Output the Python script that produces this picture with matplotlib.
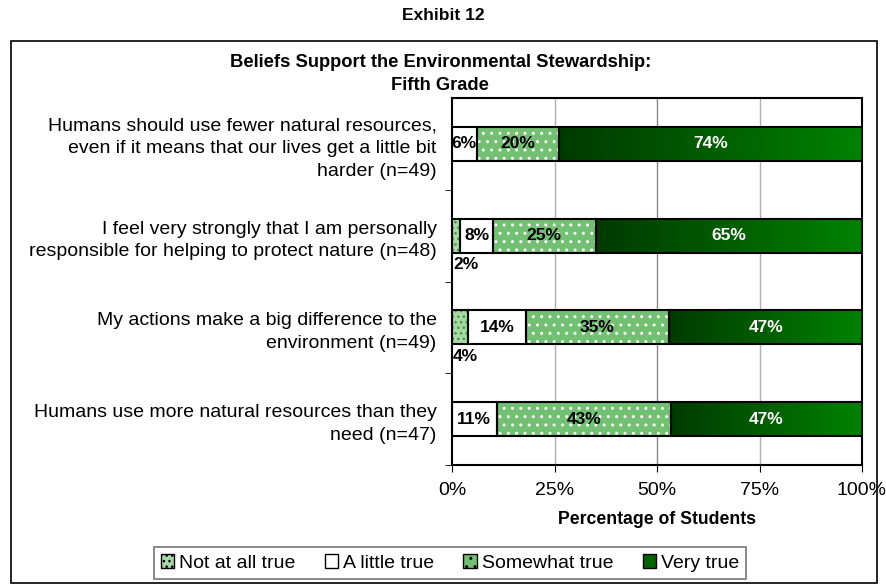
import numpy as np
import matplotlib.pyplot as plt
from matplotlib.patches import Rectangle, Patch
from matplotlib.colors import LinearSegmentedColormap

plt.rcParams['font.family'] = ['Liberation Sans', 'DejaVu Sans']

questions = [
    'Humans should use fewer natural resources,\neven if it means that our lives get a little bit\nharder (n=49)',
    'I feel very strongly that I am personally\nresponsible for helping to protect nature (n=48)',
    'My actions make a big difference to the\nenvironment (n=49)',
    'Humans use more natural resources than they\nneed (n=47)',
]
series = ['Not at all true', 'A little true', 'Somewhat true', 'Very true']
not_at_all = [0, 2, 4, 0]
a_little = [6, 8, 14, 11]
somewhat = [20, 25, 35, 43]
very = [74, 65, 47, 47]

fig = plt.figure(figsize=(8.86, 5.84), dpi=100)
fig.text(0.5, 1 - 15 / 584, 'Exhibit 12', ha='center', va='center', fontsize=12.5, fontweight='bold')
fig.patches.append(Rectangle((11 / 886, 1 - 583 / 584), 866 / 886, 542 / 584,
                             transform=fig.transFigure, fill=False, ec='black', lw=1.2))
fig.text(0.497, 1 - 74 / 584, 'Beliefs Support the Environmental Stewardship:\nFifth Grade',
         ha='center', va='center', fontsize=13.2, fontweight='bold', linespacing=1.4)

ax = fig.add_axes([452 / 886, 1 - 465 / 584, 410 / 886, 367 / 584])
y = np.arange(len(questions))
h = 0.37
green_cmap = LinearSegmentedColormap.from_list('g', ['#003a00', '#008200'])

for i in range(len(questions)):
    vals = [not_at_all[i], a_little[i], somewhat[i], very[i]]
    total = sum(vals)
    left = 0
    for j, v in enumerate(vals):
        if v == 0:
            continue
        w = v * 100 / total
        if j == 0:
            ax.barh(y[i], w, h, left=left, color='#a6d9a6', hatch='...', ec='#3a9a3a', lw=0, zorder=2)
        elif j == 1:
            ax.barh(y[i], w, h, left=left, color='white', lw=0, zorder=2)
        elif j == 2:
            ax.barh(y[i], w, h, left=left, color='#72c072', hatch='..', ec='white', lw=0, zorder=2)
        else:
            b = ax.barh(y[i], w, h, left=left, color='#006000', lw=0, zorder=2)[0]
            im = ax.imshow(np.linspace(0, 1, 256).reshape(1, -1), cmap=green_cmap, aspect='auto',
                           extent=(left, left + w, y[i] + h / 2, y[i] - h / 2), zorder=2.5)
            im.set_clip_path(b)
        ax.barh(y[i], w, h, left=left, fill=False, ec='black', lw=1.5, zorder=3)
        if v < 5:
            ax.text(left + 0.3, y[i] + h / 2 + 0.05, f'{v}%', ha='left', va='top',
                    fontsize=12.5, fontweight='bold', zorder=4)
        else:
            c = 'white' if j == 3 else 'black'
            ax.text(left + w / 2, y[i], f'{v}%', ha='center', va='center',
                    fontsize=12.5, fontweight='bold', color=c, zorder=4)
        left += w

ax.set_xlim(0, 100)
ax.set_ylim(3.5, -0.5)
ax.set_xticks([0, 25, 50, 75, 100])
ax.set_xticklabels(['0%', '25%', '50%', '75%', '100%'], fontsize=14)
ax.set_yticks(y)
ax.set_yticklabels(questions, fontsize=14, linespacing=1.45)
ax.tick_params(axis='y', length=0, pad=11)
ax.set_yticks([0.5, 1.5, 2.5, 3.5], minor=True)
ax.tick_params(axis='y', which='minor', length=5, direction='out')
ax.tick_params(axis='x', length=5, direction='out', pad=7)
for xv, c in [(25, '#b0b0b0'), (50, '#888888'), (75, '#b0b0b0')]:
    ax.axvline(xv, color=c, lw=1, zorder=1)
for s in ax.spines.values():
    s.set_linewidth(1.5)
ax.set_xlabel('Percentage of Students', fontsize=12.7, fontweight='bold', labelpad=9)

handles = [
    Patch(facecolor='#a6d9a6', hatch='...', edgecolor='black', lw=1),
    Patch(facecolor='white', edgecolor='black', lw=1),
    Patch(facecolor='#72c072', hatch='..', edgecolor='black', lw=1),
    Patch(facecolor='#006400', edgecolor='black', lw=1),
]
leg = fig.legend(handles, series, loc='center', bbox_to_anchor=(450 / 886, 1 - 563 / 584), ncol=4,
                 fontsize=14, frameon=True, fancybox=False, edgecolor='#555555',
                 handlelength=0.7, handleheight=0.7, handletextpad=0.25, columnspacing=1.5,
                 borderpad=0.35)
leg.get_frame().set_linewidth(1.2)

fig.savefig('out.png', dpi=100)
